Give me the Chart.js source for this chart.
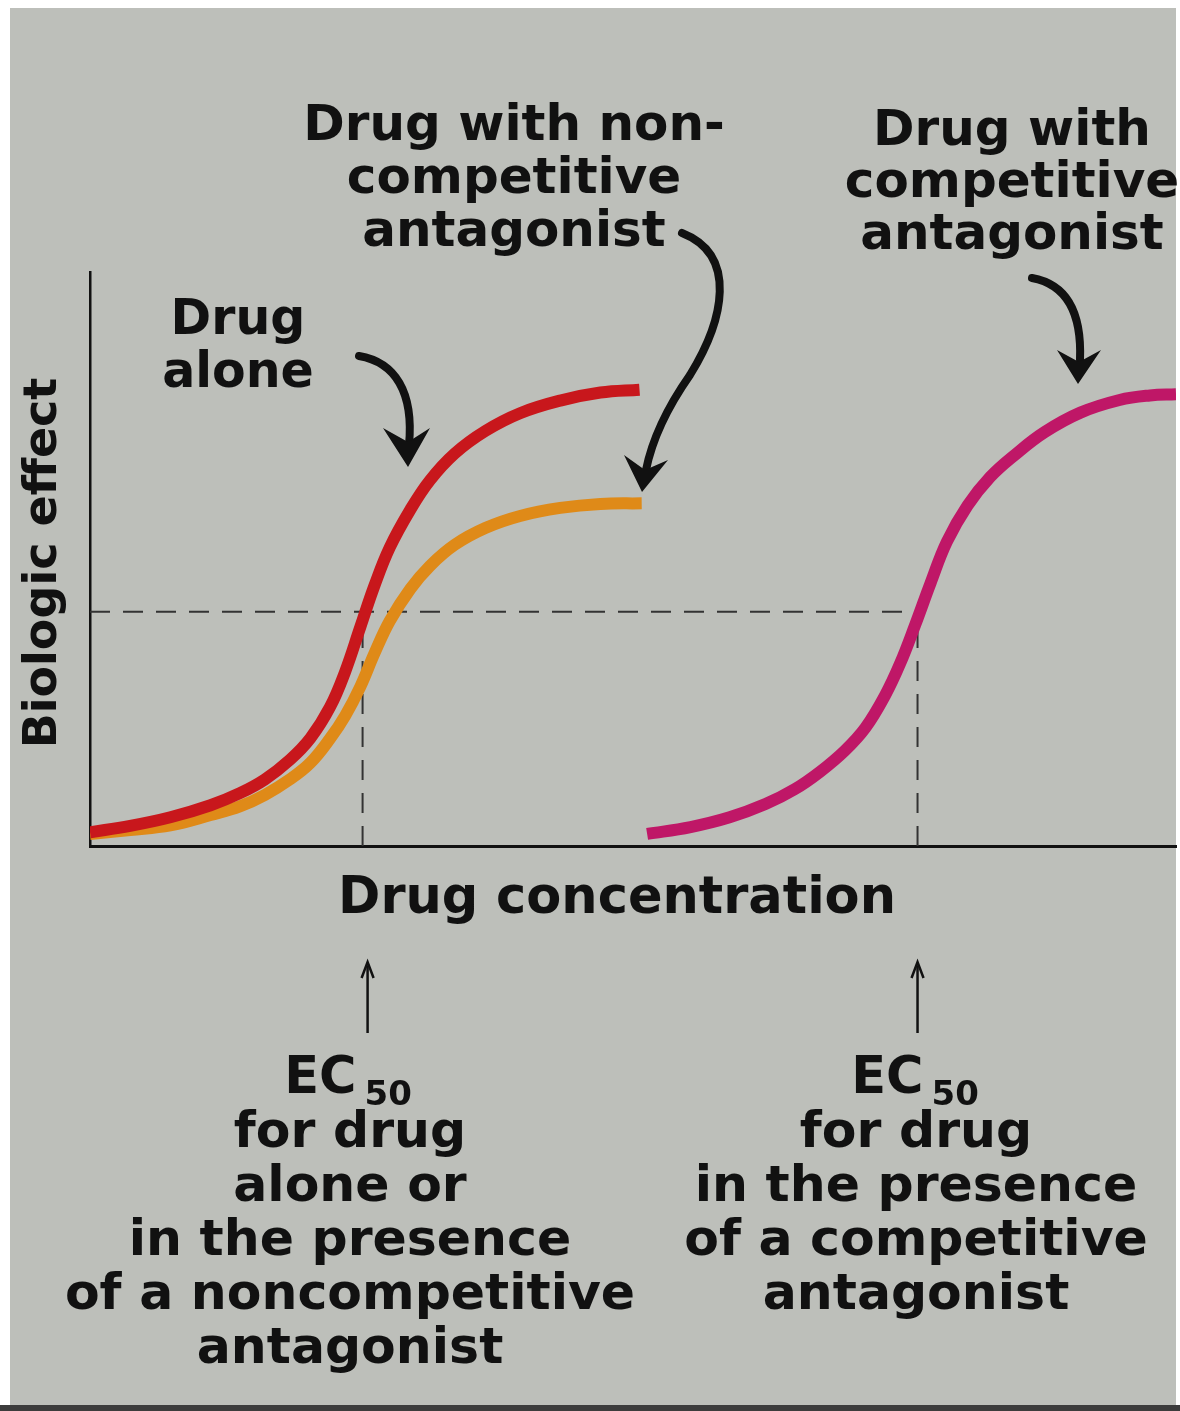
<!DOCTYPE html>
<html>
<head>
<meta charset="utf-8">
<script src="https://cdn.jsdelivr.net/npm/chart.js@4.4.0/dist/chart.umd.min.js"></script>
<style>
    html, body { margin: 0; padding: 0; background: #ffffff; }
    canvas { display: block; }
</style>
</head>
<body>
<canvas id="doseResponseChart" width="1180" height="1411"></canvas>
<script>
// drug concentration (arbitrary units, 0-100) and biologic effect (% of axis height)
const concAlone = [0, 3.7, 7.4, 11.1, 13.8, 16.1, 18.4, 20.3, 22.1, 23.5, 24.9, 26.2, 27.6, 29.5, 31.3, 33.6, 36.4, 39.6, 43.3, 47.0, 50.6];
const effectAlone = [2.4, 3.5, 5.0, 7.1, 9.2, 11.6, 15.0, 18.8, 24.2, 30.4, 38.2, 45.4, 52.0, 58.6, 63.7, 68.4, 72.3, 75.4, 77.6, 79.0, 79.5];

const concNonCompetitive = [0, 3.7, 7.4, 11.1, 13.8, 16.1, 18.4, 20.3, 22.1, 23.5, 24.9, 26.2, 27.6, 29.5, 31.3, 33.6, 36.4, 39.6, 43.3, 47.0, 50.8];
const effectNonCompetitive = [2.1, 2.8, 3.6, 5.4, 6.9, 8.9, 11.6, 14.5, 18.7, 22.7, 27.8, 33.6, 39.2, 44.8, 48.8, 52.5, 55.4, 57.5, 58.9, 59.6, 59.7];

const concCompetitive = [51.3, 55.3, 58.9, 62.2, 64.9, 67.2, 69.5, 71.4, 73.2, 74.6, 76.0, 77.4, 78.9, 80.8, 82.9, 85.2, 87.9, 91.2, 94.8, 97.6, 100];
const effectCompetitive = [2.1, 3.3, 5.0, 7.3, 9.9, 12.9, 16.6, 20.6, 26.2, 31.8, 38.6, 45.8, 53.0, 59.3, 64.3, 68.2, 72.1, 75.5, 77.7, 78.5, 78.7];

const halfEffect = 40.8;
const ec50Shared = 25.1;
const ec50Competitive = 76.2;

const topMiddleLabel = ['Drug with non-', 'competitive', 'antagonist'];
const topRightLabel = ['Drug with', 'competitive', 'antagonist'];
const aloneLabel = ['Drug', 'alone'];
const bottomLeftLabel = ['for drug', 'alone or', 'in the presence', 'of a noncompetitive', 'antagonist'];
const bottomRightLabel = ['for drug', 'in the presence', 'of a competitive', 'antagonist'];

function toPoints(xs, ys) {
    return xs.map((x, i) => ({ x: x, y: ys[i] }));
}

const FONT = '"DejaVu Sans", "Liberation Sans", Arial, sans-serif';

function drawLines(ctx, lines, cx, firstBaseline, step, size) {
    ctx.font = 'bold ' + size + 'px ' + FONT;
    ctx.textAlign = 'center';
    ctx.textBaseline = 'alphabetic';
    lines.forEach((line, i) => ctx.fillText(line, cx, firstBaseline + i * step));
}

function drawEC50(ctx, cx, baseline) {
    ctx.textAlign = 'left';
    ctx.textBaseline = 'alphabetic';
    ctx.font = 'bold 51px ' + FONT;
    const wEC = ctx.measureText('EC').width;
    ctx.font = 'bold 34px ' + FONT;
    const w50 = ctx.measureText('50').width;
    const start = cx - (wEC + 8 + w50) / 2;
    ctx.font = 'bold 51px ' + FONT;
    ctx.fillText('EC', start, baseline);
    ctx.font = 'bold 34px ' + FONT;
    ctx.fillText('50', start + wEC + 8, baseline + 12);
}

function arrowHead(ctx, tip, left, right, notch) {
    ctx.beginPath();
    ctx.moveTo(tip[0], tip[1]);
    ctx.lineTo(left[0], left[1]);
    ctx.lineTo(notch[0], notch[1]);
    ctx.lineTo(right[0], right[1]);
    ctx.closePath();
    ctx.fill();
}

const backgroundPlugin = {
    id: 'paper',
    beforeDraw(chart) {
        const ctx = chart.ctx;
        ctx.save();
        ctx.fillStyle = '#ffffff';
        ctx.fillRect(0, 0, chart.width, chart.height);
        ctx.fillStyle = '#bdbfba';
        ctx.fillRect(10, 8, 1166, 1397);
        ctx.fillStyle = '#3c3c3c';
        ctx.fillRect(0, 1405, chart.width, 6);
        ctx.restore();
    }
};

const labelsPlugin = {
    id: 'labels',
    afterDraw(chart) {
        const ctx = chart.ctx;
        const xs = chart.scales.x;
        ctx.save();
        ctx.fillStyle = '#111111';
        ctx.strokeStyle = '#111111';

        drawLines(ctx, topMiddleLabel, 514, 140, 53, 50);
        drawLines(ctx, topRightLabel, 1012, 145, 52, 50);
        drawLines(ctx, aloneLabel, 238, 334, 53, 49);
        drawLines(ctx, ['Drug concentration'], 617, 913, 0, 51);

        // y axis title
        ctx.save();
        ctx.translate(56, 563);
        ctx.rotate(-Math.PI / 2);
        ctx.font = 'bold 46px ' + FONT;
        ctx.textAlign = 'center';
        ctx.fillText('Biologic effect', 0, 0);
        ctx.restore();

        // EC50 captions under the x axis
        const leftX = xs.getPixelForValue(ec50Shared);
        const rightX = xs.getPixelForValue(ec50Competitive);
        drawEC50(ctx, 348, 1093);
        drawLines(ctx, bottomLeftLabel, 350, 1147, 54, 50.5);
        drawEC50(ctx, 915, 1093);
        drawLines(ctx, bottomRightLabel, 916, 1147, 54, 50.5);

        // thin up arrows
        ctx.lineWidth = 2.5;
        [leftX + 5, rightX].forEach(x => {
            ctx.beginPath();
            ctx.moveTo(x, 1033);
            ctx.lineTo(x, 966);
            ctx.stroke();
            ctx.beginPath();
            ctx.moveTo(x - 6, 978);
            ctx.lineTo(x, 962);
            ctx.lineTo(x + 6, 978);
            ctx.stroke();
        });

        // curved callout arrows
        ctx.lineCap = 'round';
        ctx.lineWidth = 8;
        ctx.beginPath();
        ctx.moveTo(359, 356);
        ctx.bezierCurveTo(395, 362, 414, 392, 409, 445);
        ctx.stroke();
        arrowHead(ctx, [408, 467], [383, 428], [430, 428], [408, 442]);

        ctx.beginPath();
        ctx.moveTo(682, 233);
        ctx.bezierCurveTo(738, 255, 724, 320, 690, 375);
        ctx.quadraticCurveTo(655, 425, 646, 470);
        ctx.stroke();
        arrowHead(ctx, [642, 492], [624, 455], [668, 460], [645, 470]);

        ctx.beginPath();
        ctx.moveTo(1032, 278);
        ctx.bezierCurveTo(1065, 284, 1082, 310, 1080, 360);
        ctx.stroke();
        arrowHead(ctx, [1078, 384], [1057, 350], [1101, 350], [1079, 362]);

        ctx.restore();
    }
};

const dashed = {
    borderColor: '#333333',
    borderWidth: 2,
    borderDash: [20, 13],
    pointRadius: 0,
    tension: 0,
    fill: false
};

const curve = {
    borderWidth: 12,
    pointRadius: 0,
    tension: 0.4,
    borderCapStyle: 'butt',
    borderJoinStyle: 'round'
};

const ctx = document.getElementById('doseResponseChart').getContext('2d');

const doseResponseChart = new Chart(ctx, {
    type: 'line',
    data: {
        datasets: [
            Object.assign({
                label: 'Drug alone',
                data: toPoints(concAlone, effectAlone),
                borderColor: '#c8171c'
            }, curve),
            Object.assign({
                label: 'Drug with noncompetitive antagonist',
                data: toPoints(concNonCompetitive, effectNonCompetitive),
                borderColor: '#df8a18'
            }, curve),
            Object.assign({
                label: 'Drug with competitive antagonist',
                data: toPoints(concCompetitive, effectCompetitive),
                borderColor: '#bf1767'
            }, curve),
            Object.assign({ label: 'Half effect', data: [{ x: 0, y: halfEffect }, { x: ec50Competitive, y: halfEffect }] }, dashed),
            Object.assign({ label: 'EC50 shared', data: [{ x: ec50Shared, y: 0 }, { x: ec50Shared, y: halfEffect }] }, dashed),
            Object.assign({ label: 'EC50 competitive', data: [{ x: ec50Competitive, y: 0 }, { x: ec50Competitive, y: halfEffect }] }, dashed)
        ]
    },
    options: {
        responsive: false,
        animation: false,
        devicePixelRatio: 1,
        layout: {
            padding: { left: 90, right: 4, top: 272, bottom: 565 }
        },
        plugins: {
            legend: { display: false },
            tooltip: { enabled: false }
        },
        scales: {
            x: {
                type: 'linear',
                min: 0,
                max: 100,
                ticks: { display: false },
                grid: { display: false },
                border: { display: true, color: '#111111', width: 3 },
                afterFit: scale => { scale.height = 0; }
            },
            y: {
                type: 'linear',
                min: 0,
                max: 100,
                ticks: { display: false },
                grid: { display: false },
                border: { display: true, color: '#111111', width: 2.5 },
                afterFit: scale => { scale.width = 0; }
            }
        }
    },
    plugins: [backgroundPlugin, labelsPlugin]
});
</script>
</body>
</html>
